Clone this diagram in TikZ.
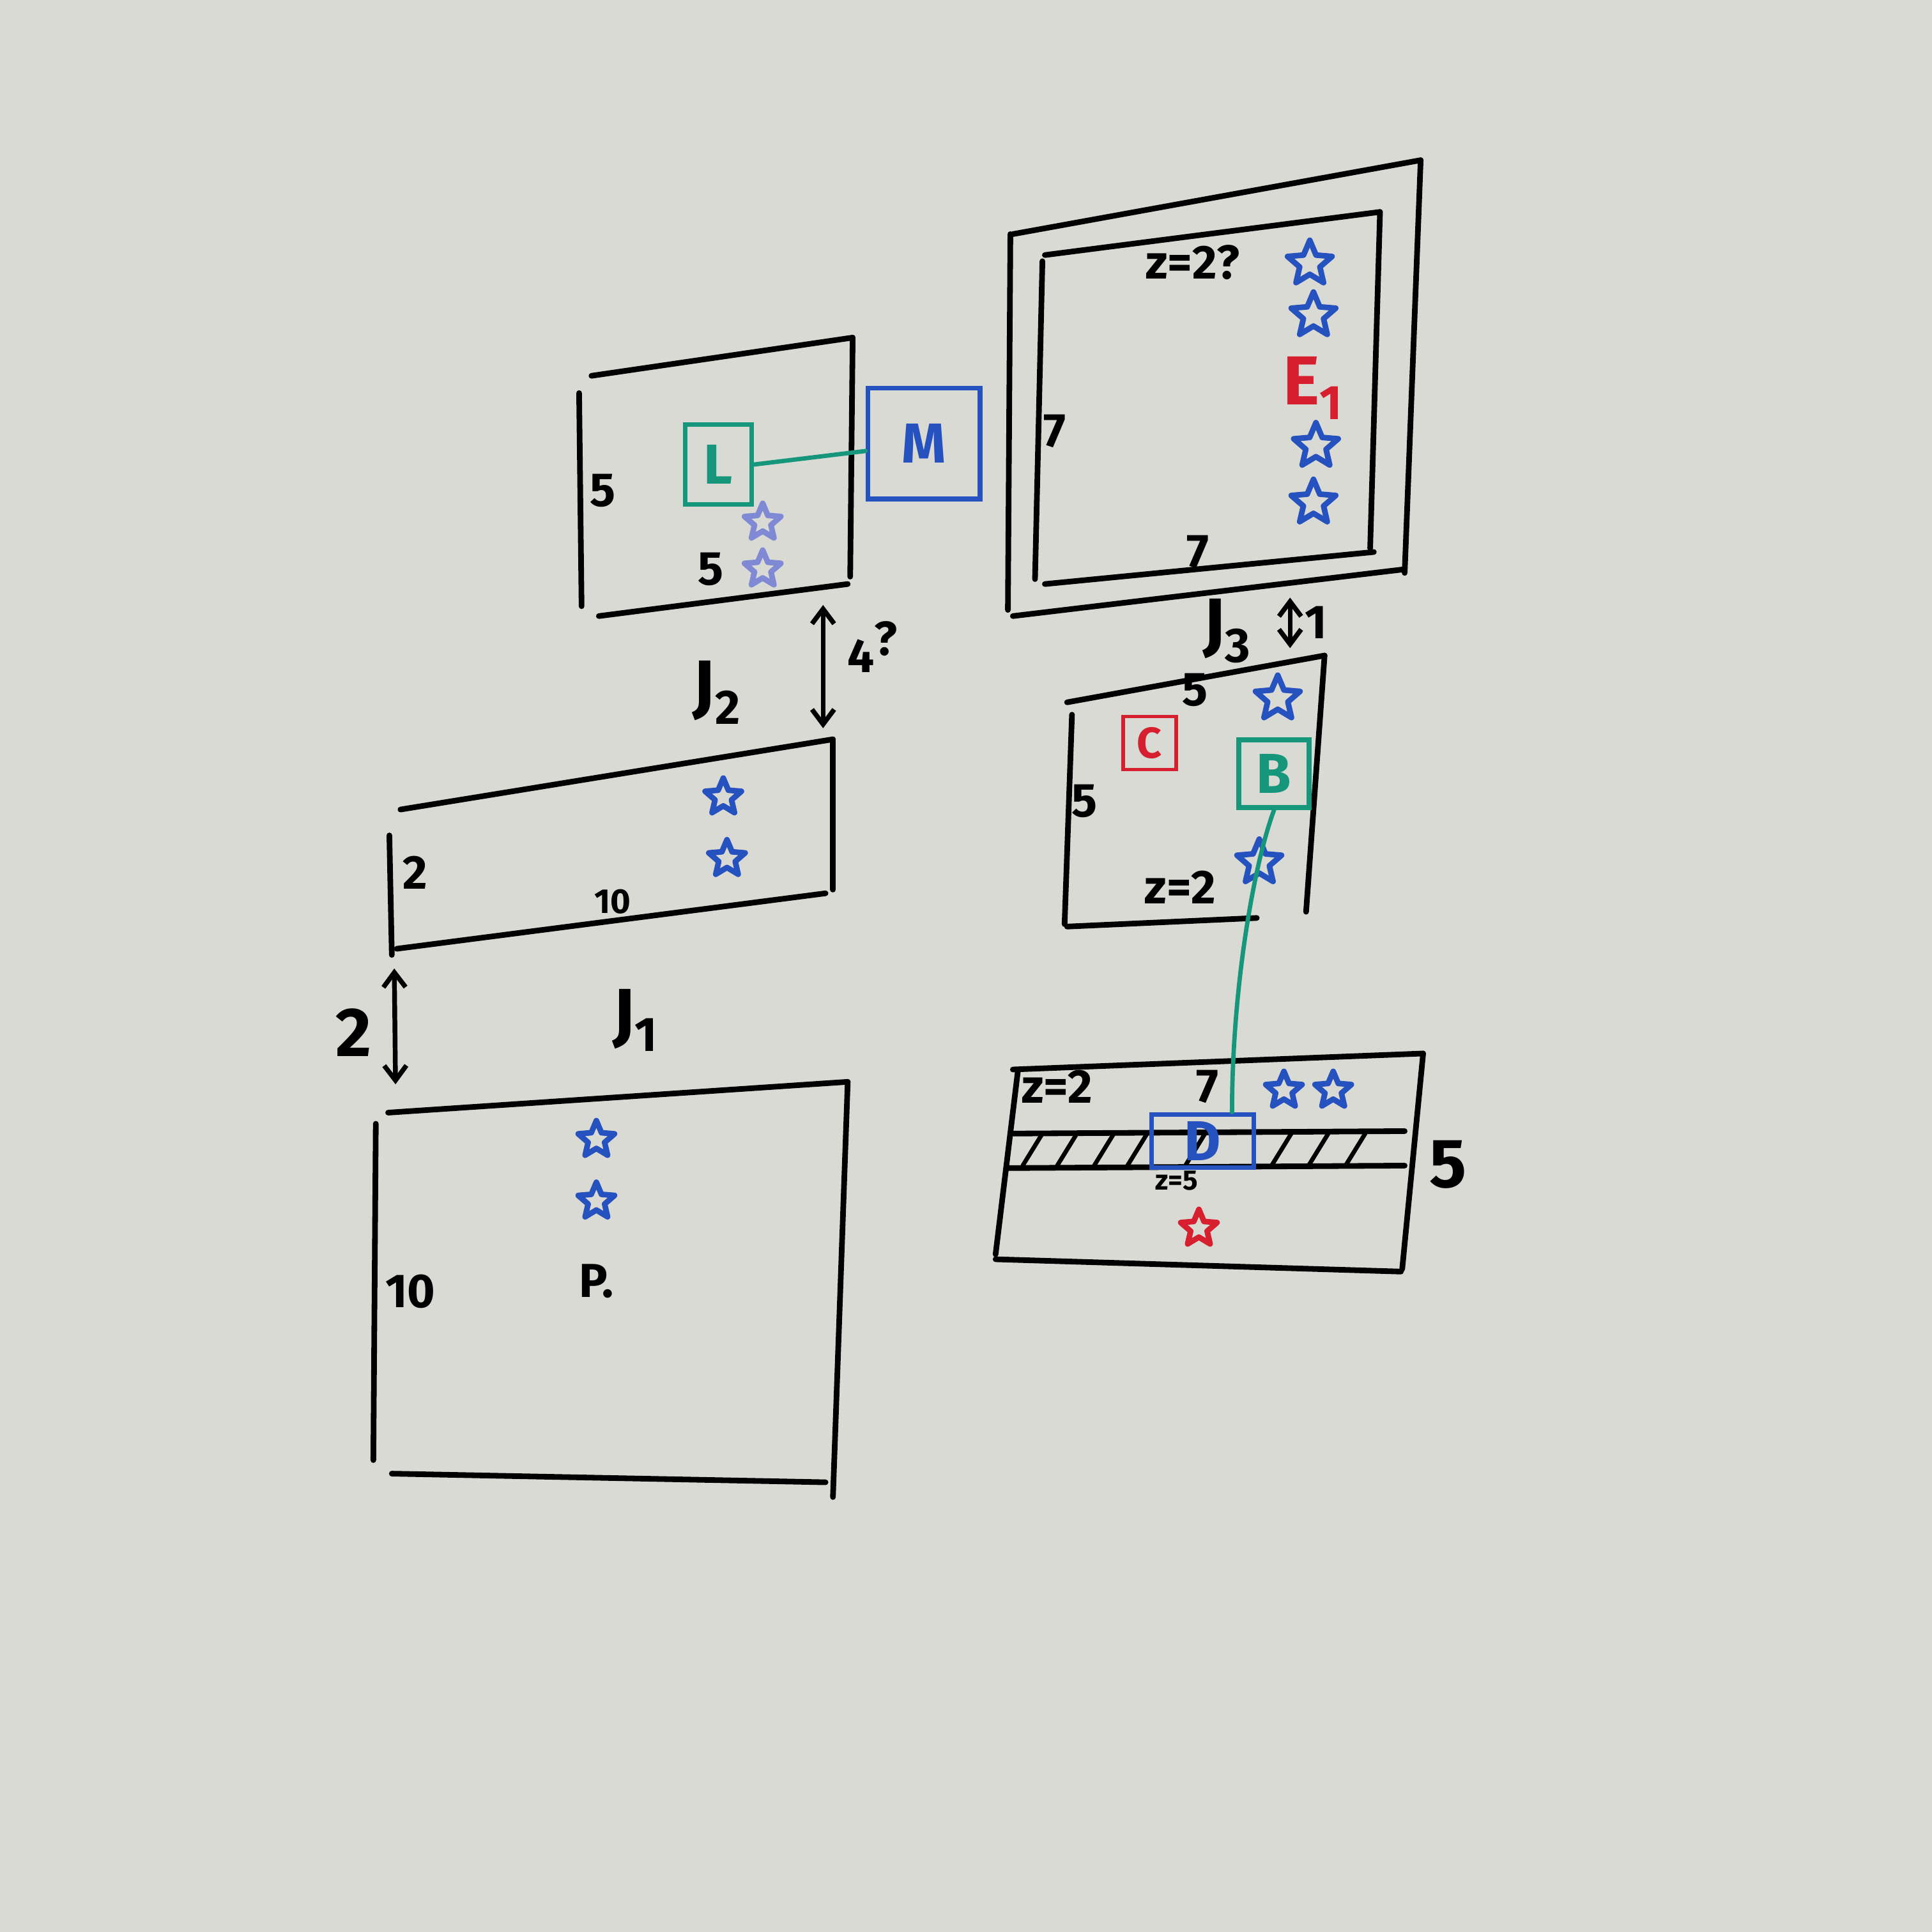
\documentclass[tikz,border=0pt]{standalone}
\usepackage{fontspec}
\setmainfont{Fira Sans}
\usetikzlibrary{arrows.meta,positioning,calc,shapes.geometric}

\definecolor{board}{RGB}{218,218,213}
\definecolor{mkblue}{RGB}{38,82,192}
\definecolor{mkgreen}{RGB}{22,150,122}
\definecolor{mkred}{RGB}{214,32,48}
\definecolor{mkfaded}{RGB}{128,138,212}

\begin{document}
\begin{tikzpicture}[x=0.02cm, y=-0.02cm,
  pen/.style={line width=2.6pt, line cap=round},
  num/.style={font=\fontsize{22}{24}\selectfont\bfseries, inner sep=0pt},
  smallnum/.style={font=\fontsize{16}{18}\selectfont\bfseries, inner sep=0pt},
  tinynum/.style={font=\fontsize{13}{14}\selectfont\bfseries, inner sep=0pt},
  bignum/.style={font=\fontsize{32}{34}\selectfont\bfseries, inner sep=0pt},
  tag/.style={draw, line width=2.2pt, inner sep=0pt, font=\fontsize{26}{28}\selectfont\bfseries},
  pstar/.style={star, star points=5, star point ratio=2.2, draw=mkblue, line width=2.6pt, line join=round, minimum size=0.62cm, inner sep=0pt},
  bigstar/.style={pstar, minimum size=0.76cm},
  dim/.style={pen, line width=2.2pt, {Straight Barb[length=2.4mm,width=3.6mm]}-{Straight Barb[length=2.4mm,width=3.6mm]}}
]
\fill[board] (0,0) rectangle (1568,1568);
\useasboundingbox (0,0) rectangle (1568,1568);

% hand drawn outlines
\foreach \xa/\ya/\xb/\yb in {
  480/305/692/274, 692/274/690/468, 486/500/688/474, 470/319/472/492,
  325/657/676/600, 676/600/676/722, 322/770/670/725, 316/678/318/775,
  315/903/688/878, 688/878/676/1215, 318/1196/670/1203, 305/912/303/1185,
  822/190/1153/130, 1153/130/1140/465, 822/500/1140/462, 820/190/818/495,
  848/207/1120/172, 1120/172/1112/445, 848/474/1115/448, 846/212/840/470,
  866/570/1075/532, 1075/532/1060/740, 866/752/1020/745, 870/580/864/750,
  822/868/1155/855, 1155/855/1138/1030, 808/1022/1137/1032, 826/870/808/1018,
  820/920/1140/918, 818/948/1140/946}
  \draw[pen] (\xa,\ya) -- (\xb,\yb);
\foreach \x in {830,858,888,915,962,1032,1062,1092}
  \draw[pen, line width=2pt] (\x,946) -- (\x+16,920);

% top left room
\node[num] (a5l) at (489,398) {5};
\node[num] (a5b) at (577,462) {5};
\node[tag, draw=mkgreen, text=mkgreen, minimum width=1.08cm, minimum height=1.3cm] (lbox) at (583,377) {L};
\node[tag, draw=mkblue, text=mkblue, minimum width=1.82cm, minimum height=1.8cm] (mbox) at (750,360) {M};
\node[pstar, draw=mkfaded] (sa1) at (619,424) {};
\node[pstar, draw=mkfaded] (sa2) at (619,462) {};
\draw[pen, mkgreen, line width=2pt] (lbox.east) -- ($(mbox.west)+(0,6)$);

\coordinate (j2t) at (668,491);
\coordinate (j2b) at (668,591);
\draw[dim] (j2t) -- (j2b);
\node[bignum] (j2) at (582,562) {J\textsubscript{2}};
\node[num] (j2d) at (708,525) {4\raisebox{.35em}{?}};

% corridor
\node[num] (b2) at (337,708) {2};
\node[smallnum] (b10) at (497,732) {10};
\node[pstar] (sb1) at (587,647) {};
\node[pstar] (sb2) at (590,697) {};

\coordinate (j1t) at (320,786);
\coordinate (j1b) at (321,880);
\draw[dim] (j1t) -- (j1b);
\node[bignum] (j1d) at (287,838) {2};
\node[bignum] (j1) at (516,828) {J\textsubscript{1}};

% big room
\node[num] (p10) at (333,1048) {10};
\node[num] (pp) at (484,1040) {P.};
\node[pstar] (sp1) at (484,925) {};
\node[pstar] (sp2) at (484,975) {};

% double walled room
\node[num] (ez) at (968,213) {z=2?};
\node[num] (e7l) at (856,350) {7};
\node[num] (e7b) at (972,448) {7};
\node[bigstar] (se1) at (1063,214) {};
\node[bigstar] (se2) at (1066,256) {};
\node[bignum, text=mkred] (e1) at (1066,315) {E\textsubscript{1}};
\node[bigstar] (se3) at (1068,362) {};
\node[bigstar] (se4) at (1066,408) {};

\coordinate (j3t) at (1047,485);
\coordinate (j3b) at (1047,526);
\draw[dim] (j3t) -- (j3b);
\node[bignum] (j3) at (996,512) {J\textsubscript{3}};
\node[num] (j3d) at (1068,505) {1};

% room with B and C
\node[num] (c5t) at (970,560) {5};
\node[num] (c5l) at (880,650) {5};
\node[tag, draw=mkred, text=mkred, minimum width=0.86cm, minimum height=0.86cm, line width=1.6pt, font=\fontsize{20}{22}\selectfont\bfseries] (cbox) at (933,603) {C};
\node[tag, draw=mkgreen, text=mkgreen, minimum width=1.14cm, minimum height=1.1cm] (bbox) at (1034,628) {B};
\node[bigstar] (sc1) at (1037,567) {};
\node[bigstar] (sc2) at (1022,700) {};
\node[num] (cz) at (958,720) {z=2};

% banded room
\node[num] (dz) at (858,882) {z=2};
\node[num] (d7) at (980,882) {7};
\node[pstar] (sd1) at (1042,885) {};
\node[pstar] (sd2) at (1082,885) {};
\node[tag, draw=mkblue, text=mkblue, minimum width=1.66cm, minimum height=0.86cm] (dbox) at (976,926) {D};
\node[tinynum] (dz5) at (955,958) {z=5};
\node[pstar, draw=mkred] (sd3) at (973,997) {};
\node[bignum] (d5) at (1175,945) {5};

\draw[pen, mkgreen, line width=2pt] (bbox.south) .. controls (1018,700) and (1000,800) .. ($(dbox.north)!0.55!(dbox.north east)$);

\end{tikzpicture}
\end{document}
